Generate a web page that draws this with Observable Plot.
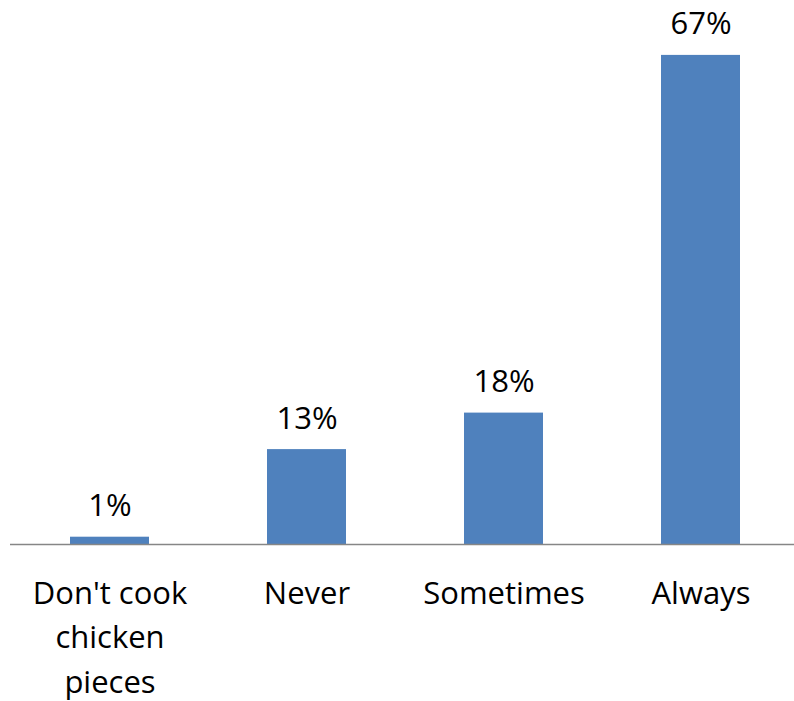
<!DOCTYPE html>
<html>
<head>
<meta charset="utf-8">
<script src="https://cdn.jsdelivr.net/npm/d3@7"></script>
<script src="https://cdn.jsdelivr.net/npm/@observablehq/plot@0.6"></script>
<style>
  html, body { margin: 0; padding: 0; background: #fff; }
  #chart svg { display: block; }
</style>
</head>
<body>
<div id="chart"></div>
<script>
const categories = ["Don't cook chicken pieces", "Never", "Sometimes", "Always"];
const tickLabels = ["Don't cook\nchicken\npieces", "Never", "Sometimes", "Always"];
const values = [1, 13, 18, 67];

const data = categories.map((c, i) => ({category: c, value: values[i]}));
const labelOf = new Map(categories.map((c, i) => [c, tickLabels[i]]));

const font = "'Open Sans', sans-serif";

const chart = Plot.plot({
  width: 794,
  height: 701,
  marginLeft: 10,
  marginRight: 0,
  marginTop: 33,
  marginBottom: 157,
  style: {fontFamily: font, fontSize: "31px", color: "#000", background: "#fff"},
  x: {domain: categories, range: [10, 799], paddingInner: 0.6, paddingOuter: 0.3},
  y: {domain: [0, 70], axis: null},
  marks: [
    Plot.barY(data, {x: "category", y: "value", fill: "#4F81BD"}),
    Plot.ruleY([0], {stroke: "#868686", strokeWidth: 1.3}),
    Plot.text(data, {x: "category", y: "value", text: d => d.value + "%", lineAnchor: "bottom", dy: -21, fontSize: 31, fill: "#000"}),
    Plot.axisX({tickSize: 0, tickPadding: 28, tickFormat: d => labelOf.get(d), lineHeight: 1.43, fontSize: 31, fill: "#000", label: null})
  ]
});
document.getElementById("chart").appendChild(chart);
</script>
</body>
</html>
